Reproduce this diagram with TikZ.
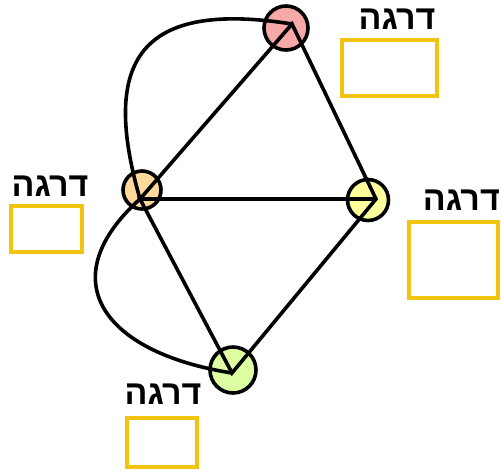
\documentclass[tikz,border=0pt]{standalone}
\usepackage{fontspec}
\newfontfamily\hebfont[Script=Hebrew]{Liberation Sans}
\TeXXeTstate=1
\definecolor{cred}{HTML}{F6A9A6}
\definecolor{corange}{HTML}{FFD99A}
\definecolor{cyellow}{HTML}{FFFF9C}
\definecolor{cgreen}{HTML}{DDFFA2}
\definecolor{cbox}{HTML}{F2C40F}
\begin{document}
\begin{tikzpicture}[x=1pt,y=-1pt,
  vert/.style={circle,draw=black,line width=3.6pt,inner sep=0pt},
  edge/.style={draw=black,line width=3.6pt,line join=miter},
  boxst/.style={draw=cbox,line width=3.4pt,fill=white},
  lab/.style={font=\hebfont\bfseries\fontsize{34}{36}\selectfont,inner sep=0pt}]
\useasboundingbox (0,0) rectangle (502,472);
% vertices
\node[vert,fill=cred,minimum size=44pt] (A) at (286,28) {};
\node[vert,fill=corange,minimum size=38pt] (B) at (142,190) {};
\node[vert,fill=cyellow,minimum size=41pt] (C) at (368,200) {};
\node[vert,fill=cgreen,minimum size=46pt] (D) at (233,370) {};
% meeting points
\coordinate (pA) at (292,24);
\coordinate (pB) at (140,199);
\coordinate (pC) at (376,199);
\coordinate (pD) at (232,373);
% edges
\draw[edge] (pB) -- (pA) -- (pC) -- (pD) -- (pB) -- (pC);
\draw[edge] (pB) .. controls (100,60) and (140,0) .. (pA);
\draw[edge] (pB) .. controls (52,278) and (100,352) .. (pD);
% labels and boxes
\node[lab] (tA) at (397,19) {\beginR דרגה\endR};
\draw[boxst] (342,40) rectangle (437,96);
\node[lab] (tB) at (50,186) {\beginR דרגה\endR};
\draw[boxst] (11,206) rectangle (82,252);
\node[lab,anchor=east] (tC) at (500,200) {\beginR דרגה\endR};
\draw[boxst] (409,222) rectangle (498,298);
\node[lab] (tD) at (163,394) {\beginR דרגה\endR};
\draw[boxst] (127,418) rectangle (197,467);
\end{tikzpicture}
\end{document}
